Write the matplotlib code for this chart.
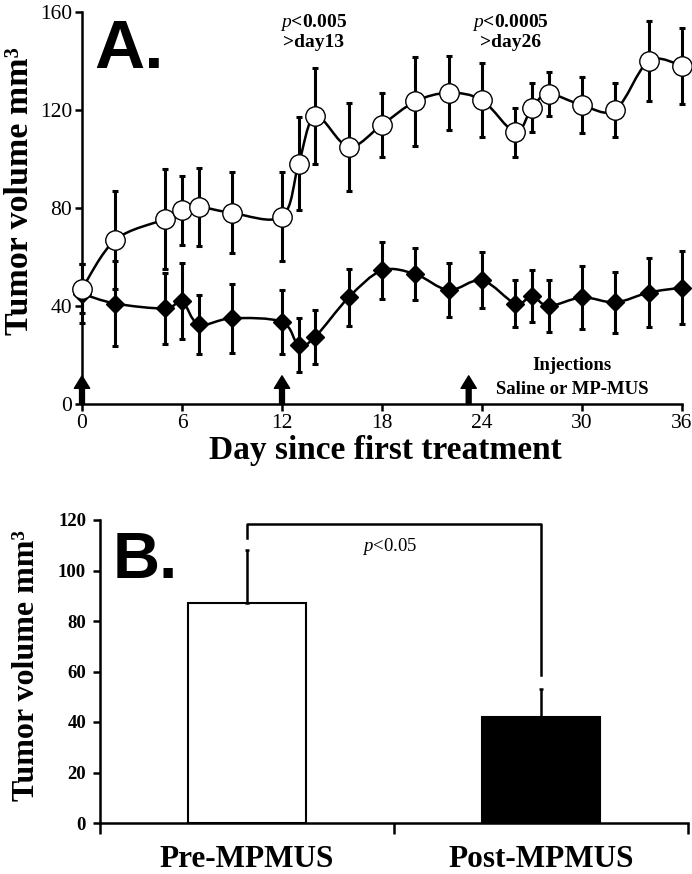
import numpy as np
import matplotlib.pyplot as plt
from matplotlib.path import Path
from matplotlib.patches import PathPatch

# Panel A: tumor volume over time
days = [0, 2, 5, 6, 7, 9, 12, 13, 14, 16, 18, 20, 22, 24, 26, 27, 28, 30, 32, 34, 36]
saline = [47, 67, 75.5, 79, 80.5, 78, 76.5, 98, 117.5, 105, 114, 123.5, 127, 124, 111, 121, 126.5, 122, 120, 140, 138]
saline_err = [10, 20, 20.5, 14, 16, 16.5, 18, 19, 19.5, 18, 13, 18, 15, 15, 10, 10, 9, 11.5, 11, 16.5, 15.5]
mpmus = [45, 41, 39, 42, 32.5, 35, 33.5, 24, 27.5, 43.5, 54.5, 53, 46.5, 50.5, 41, 44, 40, 43.5, 41.5, 45.5, 47.5]
mpmus_err = [12, 17.5, 14.5, 15.5, 12, 14, 13, 11, 11, 11.5, 11.5, 10.5, 11, 11.5, 9.5, 10.5, 10.5, 13, 12.5, 14, 15]
injection_days = [0, 12, 23.2]

# Panel B: pre vs post
groups = ['Pre-MPMUS', 'Post-MPMUS']
means = [87, 42]
errs = [21, 11]

serif = 'Liberation Serif'
sans = 'Liberation Sans'
plt.rcParams['mathtext.fontset'] = 'custom'
plt.rcParams['mathtext.it'] = 'Liberation Serif:italic'
plt.rcParams['mathtext.rm'] = 'Liberation Serif'


def smooth_line(ax, x, y, **kw):
    # Excel-like smoothed line: Catmull-Rom segments as cubic Beziers
    x = np.asarray(x, float)
    y = np.asarray(y, float)
    p = np.column_stack([x, y])
    n = len(p)
    verts = [p[0]]
    codes = [Path.MOVETO]
    for i in range(n - 1):
        p0 = p[i - 1] if i > 0 else p[i]
        p3 = p[i + 2] if i + 2 < n else p[i + 1]
        c1 = p[i] + (p[i + 1] - p0) / 6
        c2 = p[i + 1] - (p3 - p[i]) / 6
        verts += [c1, c2, p[i + 1]]
        codes += [Path.CURVE4] * 3
    ax.add_patch(PathPatch(Path(verts, codes), fill=False, **kw))


fig = plt.figure(figsize=(6.92, 8.74), dpi=100)

# ---------------- Panel A ----------------
ax = fig.add_axes([82 / 692, 1 - 404 / 874, 600 / 692, 392 / 874])
ax.set_xlim(0, 36)
ax.set_ylim(0, 160)

ax.errorbar(days, saline, yerr=saline_err, fmt='none', ecolor='black',
            elinewidth=2.2, capsize=2, capthick=2.2, zorder=2, clip_on=False)
ax.errorbar(days, mpmus, yerr=mpmus_err, fmt='none', ecolor='black',
            elinewidth=2.2, capsize=2, capthick=2.2, zorder=2, clip_on=False)
smooth_line(ax, days, saline, lw=1.8, ec='black', zorder=3)
smooth_line(ax, days, mpmus, lw=1.8, ec='black', zorder=3)
ax.plot(days, mpmus, ls='none', marker='D', ms=9, mfc='black', mec='black',
        zorder=4, clip_on=False)
ax.plot(days, saline, ls='none', marker='o', ms=14, mfc='white', mec='black',
        mew=1, zorder=5, clip_on=False)

for d in injection_days:
    ax.annotate('', xy=(d, 11.5), xytext=(d, 0),
                arrowprops=dict(facecolor='black', edgecolor='black', width=3.5,
                                headwidth=11, headlength=9, shrink=0),
                annotation_clip=False, zorder=6)

ax.spines['top'].set_visible(False)
ax.spines['right'].set_visible(False)
for s in ['left', 'bottom']:
    ax.spines[s].set_linewidth(1.8)
ax.set_xticks(np.arange(0, 37, 6))
ax.set_yticks(np.arange(0, 161, 40))
ax.tick_params(direction='out', length=5, width=1.8, labelsize=15.5, pad=2)
for lab in ax.get_xticklabels() + ax.get_yticklabels():
    lab.set_family(serif)

fig.text(385 / 692, 1 - 450 / 874, 'Day since first treatment', family=serif,
         fontweight='bold', fontsize=24, ha='center', va='center')
fig.text(20 / 692, 1 - 191 / 874, 'Tumor volume mm³', family=serif,
         fontweight='bold', fontsize=24.5, rotation=90, ha='center', va='center')

ax.text(0.75, 144.5, 'A.', family=sans, fontweight='bold', fontsize=50,
        va='center', ha='left')
ax.text(13.9, 152, '$\\it{p}$<0.005\n>day13', family=serif, fontweight='bold',
        fontsize=14, ha='center', va='center', linespacing=1.1)
ax.text(25.7, 152, '$\\it{p}$<0.0005\n>day26', family=serif, fontweight='bold',
        fontsize=14, ha='center', va='center', linespacing=1.1)
ax.text(29.4, 15.9, 'Injections', family=serif, fontweight='bold', fontsize=13.5,
        ha='center', va='center')
ax.text(29.4, 6.1, 'Saline or MP-MUS', family=serif, fontweight='bold',
        fontsize=13.5, ha='center', va='center')

# ---------------- Panel B ----------------
bx = fig.add_axes([100 / 692, 1 - 823 / 874, 588 / 692, 303 / 874])
xpos = np.arange(len(groups))
bx.bar(xpos, means, width=0.4, color=['white', 'black'], edgecolor='black',
       linewidth=1.5, zorder=2)
bx.errorbar(xpos, means, yerr=[[0, 0], errs], fmt='none', ecolor='black',
            elinewidth=1.8, capsize=1.5, capthick=1.8, zorder=3)
bx.set_xlim(-0.5, 1.5)
bx.set_ylim(0, 120)

# significance bracket
bx.plot([xpos[0], xpos[0], xpos[1], xpos[1]], [113, 118.5, 118.5, 58.5],
        color='black', lw=1.8, clip_on=False)
bx.text(0.486, 109.7, '$\\it{p}$<0.05', family=serif, fontsize=13.5,
        ha='center', va='center')

bx.spines['top'].set_visible(False)
bx.spines['right'].set_visible(False)
for s in ['left', 'bottom']:
    bx.spines[s].set_linewidth(1.8)
bx.set_yticks(np.arange(0, 121, 20))
bx.set_xticks([-0.5, 0.5, 1.5])
bx.set_xticklabels([])
bx.set_xticks(xpos, minor=True)
bx.set_xticklabels(groups, minor=True, family=serif, fontweight='bold', fontsize=22.5)
bx.tick_params(axis='x', which='minor', length=0, pad=16)
bx.tick_params(axis='x', which='major', direction='out', length=8, width=1.8)
bx.tick_params(axis='y', direction='out', length=5, width=1.8, labelsize=13.5, pad=5)
for lab in bx.get_yticklabels():
    lab.set_family(serif)
    lab.set_fontweight('bold')
fig.text(27 / 692, 1 - 666 / 874, 'Tumor volume mm³', family=serif,
         fontweight='bold', fontsize=23, rotation=90, ha='center', va='center')
bx.text(-0.456, 103.8, 'B.', family=sans, fontweight='bold',
        fontsize=47, va='center', ha='left')

fig.savefig('out.png', dpi=100)
